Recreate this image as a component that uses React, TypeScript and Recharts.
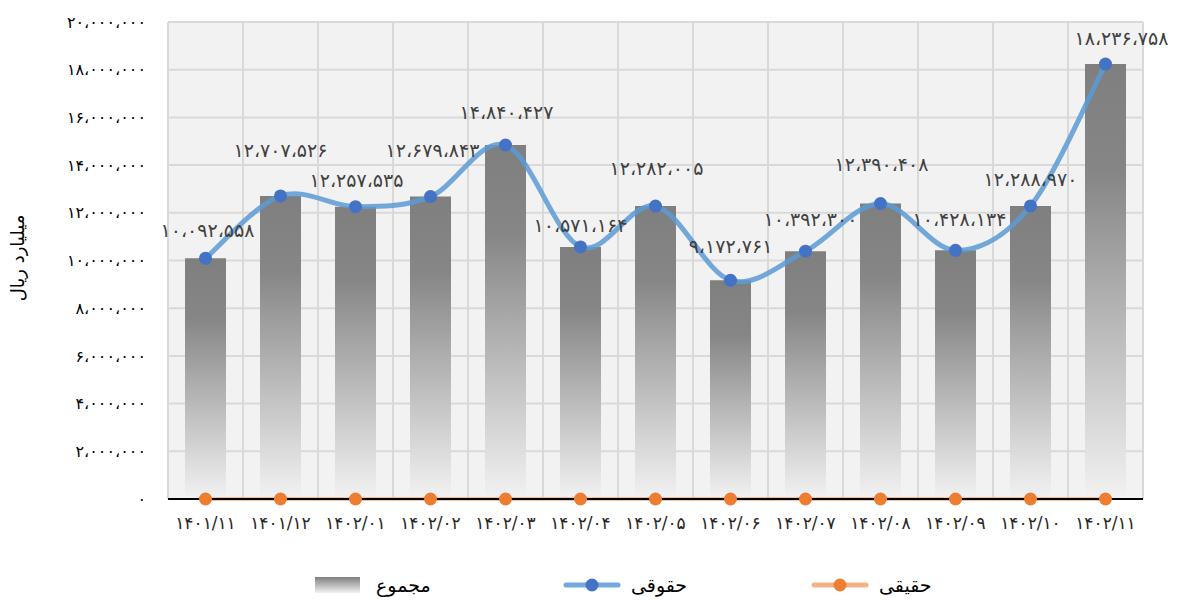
import {
  Bar,
  CartesianGrid,
  ComposedChart,
  LabelList,
  Line,
  XAxis,
  YAxis,
} from 'recharts'

const months = [
  '۱۴۰۱/۱۱', '۱۴۰۱/۱۲', '۱۴۰۲/۰۱', '۱۴۰۲/۰۲', '۱۴۰۲/۰۳', '۱۴۰۲/۰۴', '۱۴۰۲/۰۵',
  '۱۴۰۲/۰۶', '۱۴۰۲/۰۷', '۱۴۰۲/۰۸', '۱۴۰۲/۰۹', '۱۴۰۲/۱۰', '۱۴۰۲/۱۱',
]
const legal = [
  10092558, 12707526, 12257535, 12679843, 14840427, 10571164, 12282005,
  9172761, 10392300, 12390408, 10428134, 12288970, 18236758,
]
const natural = [0, 0, 0, 0, 0, 0, 0, 0, 0, 0, 0, 0, 0]
const total = [
  10092558, 12707526, 12257535, 12679843, 14840427, 10571164, 12282005,
  9172761, 10392300, 12390408, 10428134, 12288970, 18236758,
]
const yTicks = [0, 2000000, 4000000, 6000000, 8000000, 10000000, 12000000, 14000000, 16000000, 18000000, 20000000]

// how far each data label sits above its point (excel placed them by hand)
const labelLift = [28, 46, 27, 47, 33, 22, 38, 34, 32, 39, 31, 27, 26]
const labelShift = [2, 0, 1, 2, 1, 0, 1, 0, 5, 1, 4, 0, 16]

const data = months.map((m, i) => ({ month: m, total: total[i], legal: legal[i], natural: natural[i] }))

const FONT = '"DejaVu Sans", sans-serif'
const faDigits = '۰۱۲۳۴۵۶۷۸۹'
function fa(n: number) {
  return n
    .toLocaleString('en-US')
    .replace(/\d/g, (d) => faDigits[+d])
    .replace(/,/g, '،')
}

// excel-like smoothed line (bezier through points, 1/6 neighbour tangents)
function smoothCurve(context: any) {
  let pts: number[][] = []
  return {
    areaStart() {},
    areaEnd() {},
    lineStart() {
      pts = []
    },
    point(x: number, y: number) {
      pts.push([+x, +y])
    },
    lineEnd() {
      if (!pts.length) return
      context.moveTo(pts[0][0], pts[0][1])
      for (let i = 0; i < pts.length - 1; i++) {
        const p0 = pts[i - 1] || pts[i]
        const p1 = pts[i]
        const p2 = pts[i + 1]
        const p3 = pts[i + 2] || pts[i + 1]
        context.bezierCurveTo(
          p1[0] + (p2[0] - p0[0]) / 6,
          p1[1] + (p2[1] - p0[1]) / 6,
          p2[0] - (p3[0] - p1[0]) / 6,
          p2[1] - (p3[1] - p1[1]) / 6,
          p2[0],
          p2[1],
        )
      }
    },
  }
}

function ValueLabel(props: any) {
  const { x, y, value, index } = props
  return (
    <text
      x={x + (labelShift[index] ?? 0)}
      y={y - (labelLift[index] ?? 30)}
      textAnchor="middle"
      dominantBaseline="central"
      fontSize={19}
      fontFamily={FONT}
      fill="#404040"
    >
      {fa(Number(value))}
    </text>
  )
}

function LineIcon({ line, dot, opacity = 1 }: { line: string; dot: string; opacity?: number }) {
  return (
    <svg width={58} height={16} style={{ display: 'block' }}>
      <line x1={3} y1={8} x2={55} y2={8} stroke={line} strokeOpacity={opacity} strokeWidth={5} strokeLinecap="round" />
      <circle cx={29} cy={8} r={6.5} fill={dot} />
    </svg>
  )
}

function ChartLegend() {
  const item = (left: number) => ({
    position: 'absolute' as const,
    left,
    top: 574,
    display: 'flex',
    alignItems: 'center',
    gap: 10,
    fontFamily: FONT,
    fontSize: 19,
    color: '#000',
  })
  return (
    <>
      <div style={item(315)}>
        <div style={{ width: 45, height: 16, background: 'linear-gradient(#7f7f7f, #f2f2f2)' }} />
        <span style={{ marginLeft: 6 }}>مجموع</span>
      </div>
      <div style={item(563)}>
        <LineIcon line="#5b9bd5" dot="#4472c4" opacity={0.85} />
        <span>حقوقی</span>
      </div>
      <div style={item(811)}>
        <LineIcon line="#f4b183" dot="#ed7d31" />
        <span>حقیقی</span>
      </div>
    </>
  )
}

export default function App() {
  return (
    <div style={{ position: 'absolute', left: 0, top: 0, width: 1177, height: 600, background: '#fff' }}>
      <ComposedChart
        width={1177}
        height={600}
        data={data}
        margin={{ top: 22, right: 34, left: 0, bottom: 61 }}
        barCategoryGap={0}
      >
        <defs>
          <linearGradient id="barGrad" x1="0" y1="0" x2="0" y2="1">
            <stop offset="0%" stopColor="#7f7f7f" />
            <stop offset="25%" stopColor="#868686" />
            <stop offset="100%" stopColor="#f2f2f2" />
          </linearGradient>
        </defs>
        <CartesianGrid
          fill="#f2f2f2"
          stroke="#d9d9d9"
          strokeWidth={2}
          verticalCoordinatesGenerator={({ offset }: any) =>
            months.map((_, i) => offset.left + (i * offset.width) / months.length).concat(offset.left + offset.width)
          }
        />
        <XAxis
          dataKey="month"
          height={40}
          tickLine={false}
          axisLine={{ stroke: '#000', strokeWidth: 2 }}
          tickMargin={12}
          interval={0}
          tick={{ fontSize: 17, fill: '#262626', fontFamily: FONT }}
        />
        <YAxis
          domain={[0, 20000000]}
          ticks={yTicks}
          width={168}
          tickLine={false}
          axisLine={false}
          tickSize={0}
          tickMargin={22}
          tickFormatter={(v: number) => fa(v)}
          tick={{ fontSize: 16, fill: '#000', fontFamily: FONT }}
          label={{
            content: () => (
              <text transform="translate(24,258) rotate(-90)" textAnchor="middle" fontSize={18} fontFamily={FONT} fill="#000">
                میلیارد ریال
              </text>
            ),
          }}
        />
        <Bar dataKey="total" name="مجموع" fill="url(#barGrad)" barSize={41} isAnimationActive={false} />
        <Line
          dataKey="natural"
          name="حقیقی"
          type="linear"
          stroke="#f4b183"
          strokeOpacity={0.8}
          strokeWidth={4}
          dot={{ r: 6.5, fill: '#ed7d31', stroke: 'none' }}
          activeDot={false}
          isAnimationActive={false}
        />
        <Line
          dataKey="legal"
          name="حقوقی"
          type={smoothCurve as any}
          stroke="#5b9bd5"
          strokeOpacity={0.85}
          strokeWidth={5}
          dot={{ r: 6.5, fill: '#4472c4', stroke: 'none', fillOpacity: 1 }}
          activeDot={false}
          isAnimationActive={false}
        >
          <LabelList dataKey="legal" content={<ValueLabel />} />
        </Line>
      </ComposedChart>
      <ChartLegend />
    </div>
  )
}
